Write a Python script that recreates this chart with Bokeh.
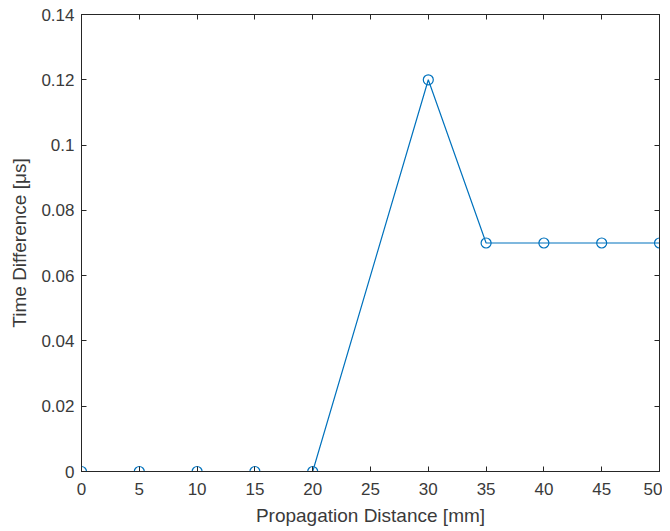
from bokeh.plotting import figure
from bokeh.models import LinearAxis, FixedTicker, Range1d
from bokeh.embed import file_html
from bokeh.resources import INLINE

distance = [0, 5, 10, 15, 20, 30, 35, 40, 45, 50]
time_diff = [0, 0, 0, 0, 0, 0.12, 0.07, 0.07, 0.07, 0.07]
x_ticks = [0, 5, 10, 15, 20, 25, 30, 35, 40, 45, 50]
y_ticks = [0, 0.02, 0.04, 0.06, 0.08, 0.1, 0.12, 0.14]
y_labels = {0: "0", 0.02: "0.02", 0.04: "0.04", 0.06: "0.06", 0.08: "0.08", 0.1: "0.1", 0.12: "0.12", 0.14: "0.14"}

color = "#0072BD"
dark = "#262626"
p = figure(width=662, height=530, output_backend="svg", toolbar_location=None,
           x_range=Range1d(0, 50), y_range=Range1d(0, 0.14),
           min_border_left=81, min_border_top=14, min_border_right=3, min_border_bottom=59)
p.outline_line_color = dark
p.outline_line_width = 1
p.background_fill_color = "white"
p.border_fill_color = "white"
p.grid.visible = False

p.line(distance, time_diff, line_color=color, line_width=1.2)
p.scatter(distance, time_diff, marker="circle", size=10, fill_color=None, line_color=color, line_width=1.2)

font = "Liberation Sans"
lab_col = "#3a3a3a"
for ax in (p.xaxis[0], p.yaxis[0]):
    ax.major_tick_in = 5
    ax.major_tick_out = 0
    ax.minor_tick_line_color = None
    ax.axis_line_color = dark
    ax.major_tick_line_color = dark
    ax.major_label_text_font = font
    ax.major_label_text_font_size = "17px"
    ax.major_label_text_color = lab_col
    ax.axis_label_text_font = font
    ax.axis_label_text_font_size = "19px"
    ax.axis_label_text_font_style = "normal"
    ax.axis_label_text_color = lab_col

p.xaxis[0].ticker = FixedTicker(ticks=x_ticks)
p.yaxis[0].ticker = FixedTicker(ticks=y_ticks)
p.yaxis[0].major_label_overrides = y_labels
p.xaxis[0].axis_label = "Propagation Distance [mm]"
p.yaxis[0].axis_label = "Time Difference [μs]"
p.xaxis[0].major_label_standoff = 11
p.yaxis[0].major_label_standoff = 7
p.xaxis[0].axis_label_standoff = 7
p.yaxis[0].axis_label_standoff = 8

top = LinearAxis(ticker=FixedTicker(ticks=x_ticks), major_tick_in=5, major_tick_out=0,
                 minor_tick_line_color=None, axis_line_color=dark, major_tick_line_color=dark,
                 major_label_standoff=0, major_label_overrides={t: "" for t in x_ticks})
right = LinearAxis(ticker=FixedTicker(ticks=y_ticks), major_tick_in=5, major_tick_out=0,
                   minor_tick_line_color=None, axis_line_color=dark, major_tick_line_color=dark,
                   major_label_standoff=0, major_label_overrides={t: "" for t in y_ticks})
p.add_layout(top, "above")
p.add_layout(right, "right")

open("out.html", "w").write(file_html(p, INLINE))
